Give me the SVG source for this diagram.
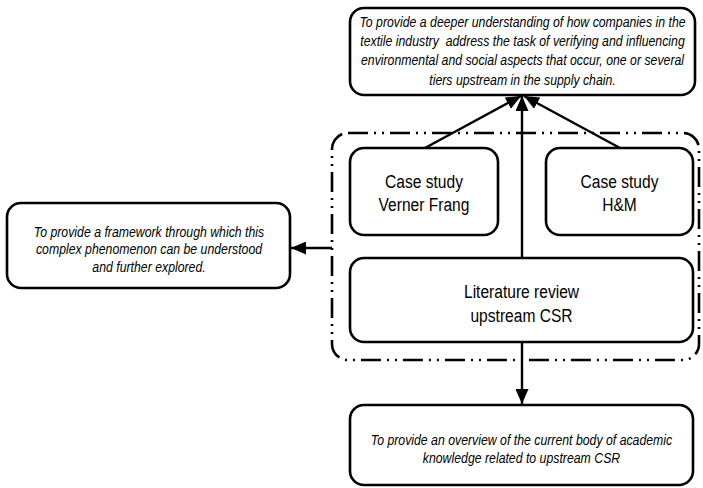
<svg xmlns="http://www.w3.org/2000/svg" width="703" height="488" viewBox="0 0 703 488">
<style>
.box{fill:#fff;stroke:#000;stroke-width:2.6}
.cont{fill:none;stroke:#000;stroke-width:2.6;stroke-dasharray:20 6 2 6 2 6}
.con{fill:none;stroke:#000;stroke-width:2.4}
.it{font-family:"Liberation Sans",Arial,sans-serif;font-size:15px;font-style:italic;text-anchor:middle;fill:#000}
.lb{font-family:"Liberation Sans",Arial,sans-serif;font-size:19px;text-anchor:middle;fill:#000}
</style>
<defs>
<marker id="ah" markerUnits="userSpaceOnUse" markerWidth="15" markerHeight="13" refX="15" refY="6.5" orient="auto">
<path d="M0,0 L15,6.5 L0,13 z" fill="#000"/>
</marker>
</defs>
<rect width="703" height="488" fill="#fff"/>
<g id="container">
<rect class="cont" x="332" y="133" width="367" height="227" rx="16"/>
</g>
<g id="top-goal">
<rect class="box" x="350" y="8" width="345" height="87" rx="14"/>
<text class="it" transform="translate(522.5,0) scale(0.82,1)"><tspan x="0" y="27">To provide a deeper understanding of how companies in the</tspan><tspan x="0" y="46">textile industry&#160; address the task of verifying and influencing</tspan><tspan x="0" y="65.5">environmental and social aspects that occur, one or several</tspan><tspan x="0" y="85">tiers upstream in the supply chain.</tspan></text>
</g>
<g id="left-goal">
<rect class="box" x="7" y="203" width="283" height="85" rx="14"/>
<text class="it" transform="translate(149,0) scale(0.82,1)"><tspan x="0" y="237">To provide a framework through which this</tspan><tspan x="0" y="254.5">complex phenomenon can be understood</tspan><tspan x="0" y="272">and further explored.</tspan></text>
</g>
<g id="case-vf">
<rect class="box" x="350" y="148" width="148" height="87" rx="14"/>
<text class="lb" transform="translate(424,0) scale(0.82,1)"><tspan x="0" y="188">Case study</tspan><tspan x="0" y="211.5">Verner Frang</tspan></text>
</g>
<g id="case-hm">
<rect class="box" x="546" y="148" width="147" height="87" rx="14"/>
<text class="lb" transform="translate(619.5,0) scale(0.82,1)"><tspan x="0" y="188">Case study</tspan><tspan x="0" y="211.5">H&amp;M</tspan></text>
</g>
<g id="literature">
<rect class="box" x="350" y="258" width="343" height="84" rx="14"/>
<text class="lb" transform="translate(521.5,0) scale(0.82,1)"><tspan x="0" y="298">Literature review</tspan><tspan x="0" y="322">upstream CSR</tspan></text>
</g>
<g id="bottom-goal">
<rect class="box" x="350" y="405" width="343" height="80" rx="14"/>
<text class="it" transform="translate(521.5,0) scale(0.82,1)"><tspan x="0" y="445">To provide an overview of the current body of academic</tspan><tspan x="0" y="463.5">knowledge related to upstream CSR</tspan></text>
</g>
<g id="connectors">
<line class="con" x1="425" y1="148" x2="521" y2="96" marker-end="url(#ah)"/>
<line class="con" x1="522" y1="258" x2="522" y2="96" marker-end="url(#ah)"/>
<line class="con" x1="620" y1="148" x2="524" y2="96" marker-end="url(#ah)"/>
<line class="con" x1="332" y1="248" x2="291" y2="248" marker-end="url(#ah)"/>
<line class="con" x1="522" y1="342" x2="522" y2="404" marker-end="url(#ah)"/>
</g>
</svg>
